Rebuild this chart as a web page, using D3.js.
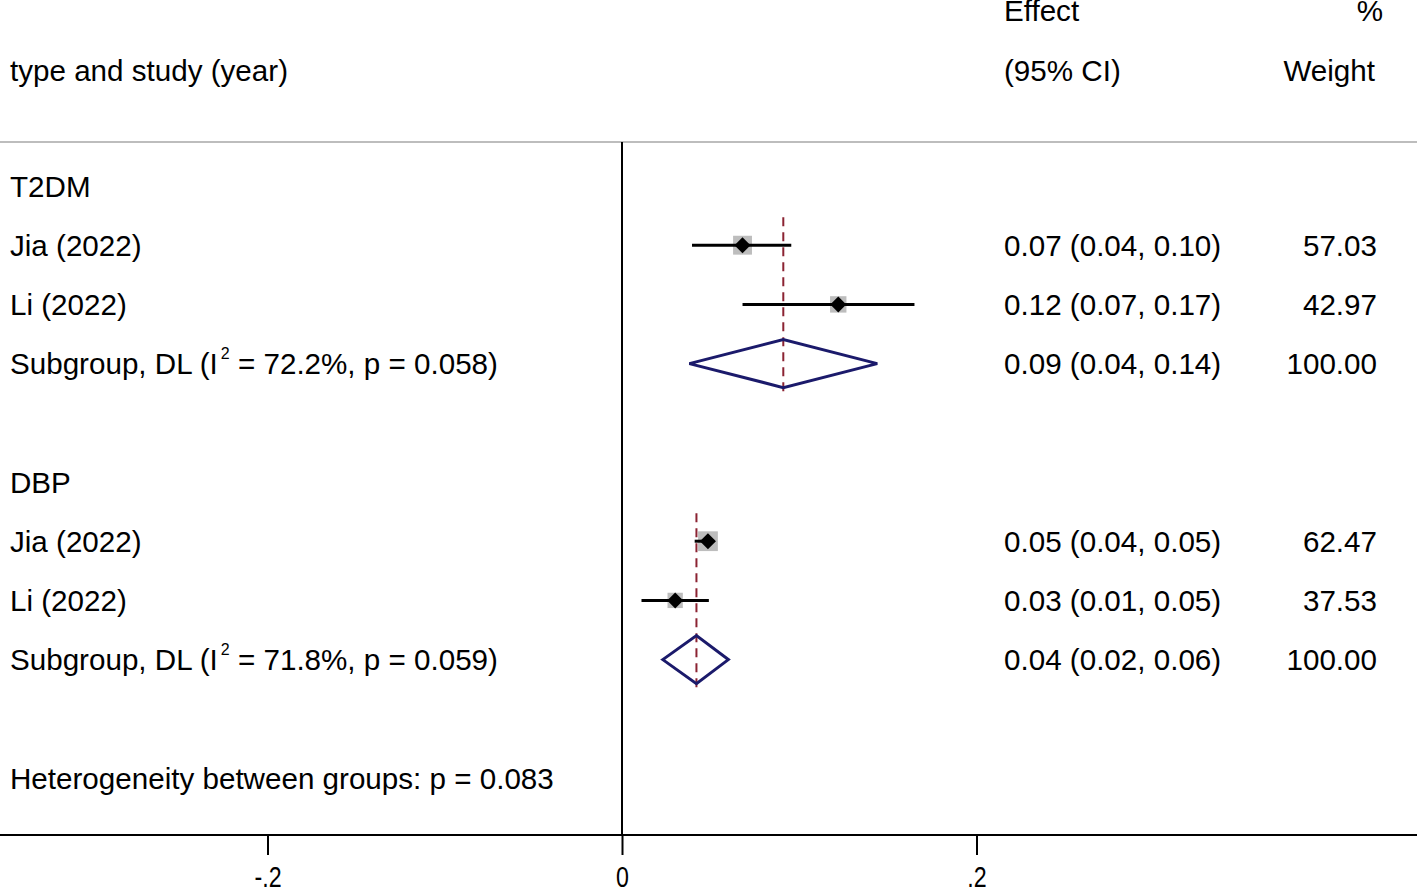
<!DOCTYPE html>
<html><head><meta charset="utf-8">
<script src="https://cdn.jsdelivr.net/npm/d3@7"></script>
<style>body{margin:0;background:#fff}svg{display:block}text{font-family:"Liberation Sans",Arial,sans-serif;fill:#000}</style>
</head><body><svg id="c" width="1417" height="888"></svg>
<script>
// Data
const labels = ["T2DM","Jia (2022)","Li (2022)","Subgroup, DL","","DBP","Jia (2022)","Li (2022)","Subgroup, DL","","Heterogeneity between groups: p = 0.083"];
const rowType = ["head","study","study","sub","blank","head","study","study","sub","blank","het"];
const est = [null,0.068,0.122,0.091,null,null,0.0485,0.030,0.042,null,null];
const lo  = [null,0.0395,0.068,0.038,null,null,0.041,0.011,0.023,null,null];
const hi  = [null,0.0955,0.165,0.144,null,null,0.052,0.049,0.060,null,null];
const effText = [null,"0.07 (0.04, 0.10)","0.12 (0.07, 0.17)","0.09 (0.04, 0.14)",null,null,"0.05 (0.04, 0.05)","0.03 (0.01, 0.05)","0.04 (0.02, 0.06)",null,null];
const weights = [null,"57.03","42.97","100.00",null,null,"62.47","37.53","100.00",null,null];
const weightVal = [null,57.03,42.97,null,null,null,62.47,37.53,null,null,null];
const subI2 = {3:"72.2%, p = 0.058", 8:"71.8%, p = 0.059"};
const subgroupSpan = [[1,3,0.091],[6,8,0.042]]; // [firstRow,lastRow,pooled]
const ticks = [-0.2,0,0.2];
const tickLabels = ["-.2","0",".2"];

const svg = d3.select("#c");
const x = d3.scaleLinear().domain([0,0.2]).range([622,976.5]);
const y = d3.scaleLinear().domain([0,10]).range([186,778]);
const fs = 29.6;
const bo = 10.5; // baseline offset

// header
svg.append("text").attr("x",10).attr("y",70+bo).attr("font-size",fs).text("type and study (year)");
svg.append("text").attr("x",1004).attr("y",21).attr("font-size",fs).text("Effect");
svg.append("text").attr("x",1004).attr("y",70+bo).attr("font-size",fs).text("(95% CI)");
svg.append("text").attr("x",1383).attr("y",21).attr("font-size",fs).attr("text-anchor","end").text("%");
svg.append("text").attr("x",1375).attr("y",70+bo).attr("font-size",fs).attr("text-anchor","end").text("Weight");
svg.append("line").attr("x1",0).attr("x2",1417).attr("y1",142).attr("y2",142).attr("stroke","#bdbdbd").attr("stroke-width",2);

// null line
svg.append("line").attr("x1",x(0)).attr("x2",x(0)).attr("y1",142).attr("y2",835).attr("stroke","#000").attr("stroke-width",2);

// axis
const axis = d3.axisBottom(x).tickValues(ticks).tickSize(20).tickFormat((d,i)=>tickLabels[i]);
const ag = svg.append("g").attr("transform","translate(0,835)").call(axis);
ag.select(".domain").remove();
ag.selectAll(".tick line").attr("stroke","#000").attr("stroke-width",2);
ag.selectAll(".tick text").attr("font-size",29).attr("dy",0).attr("y",52)
  .attr("transform","scale(0.8,1)").attr("fill","#000");
svg.append("line").attr("x1",0).attr("x2",1417).attr("y1",835).attr("y2",835).attr("stroke","#000").attr("stroke-width",2);

// pooled dashed lines
subgroupSpan.forEach(s=>{
  svg.append("line").attr("x1",x(s[2])).attr("x2",x(s[2]))
    .attr("y1",y(s[0])-28).attr("y2",y(s[1])+28)
    .attr("stroke","#8b2332").attr("stroke-width",2).attr("stroke-dasharray","9,6");
});

// labels
labels.forEach((l,i)=>{
  if(!l) return;
  const t = svg.append("text").attr("x",10).attr("y",y(i)+bo).attr("font-size",fs);
  if(rowType[i]==="sub"){
    t.append("tspan").text(l+" (I");
    t.append("tspan").attr("font-size",16).attr("dx",3).attr("dy",-15).text("2");
    t.append("tspan").attr("dy",15).text(" = "+subI2[i]+")");
  } else t.text(l);
  if(effText[i]) svg.append("text").attr("x",1004).attr("y",y(i)+bo).attr("font-size",fs).text(effText[i]);
  if(weights[i]) svg.append("text").attr("x",1377).attr("y",y(i)+bo).attr("font-size",fs).attr("text-anchor","end").text(weights[i]);
});

// studies
rowType.forEach((t,i)=>{
  if(t==="study"){
    const s = 2.5*Math.sqrt(weightVal[i]);
    svg.append("rect").attr("x",x(est[i])-s/2).attr("y",y(i)-s/2).attr("width",s).attr("height",s).attr("fill","#bdbdbd");
    svg.append("line").attr("x1",x(lo[i])).attr("x2",x(hi[i])).attr("y1",y(i)).attr("y2",y(i)).attr("stroke","#000").attr("stroke-width",3);
    const d=8;
    svg.append("path").attr("d",`M${x(est[i])-d},${y(i)}L${x(est[i])},${y(i)-d}L${x(est[i])+d},${y(i)}L${x(est[i])},${y(i)+d}Z`).attr("fill","#000");
  } else if(t==="sub"){
    const h=24;
    svg.append("path").attr("d",`M${x(lo[i])},${y(i)}L${x(est[i])},${y(i)-h}L${x(hi[i])},${y(i)}L${x(est[i])},${y(i)+h}Z`)
      .attr("fill","none").attr("stroke","#1b1a6b").attr("stroke-width",3);
  }
});
</script></body></html>
